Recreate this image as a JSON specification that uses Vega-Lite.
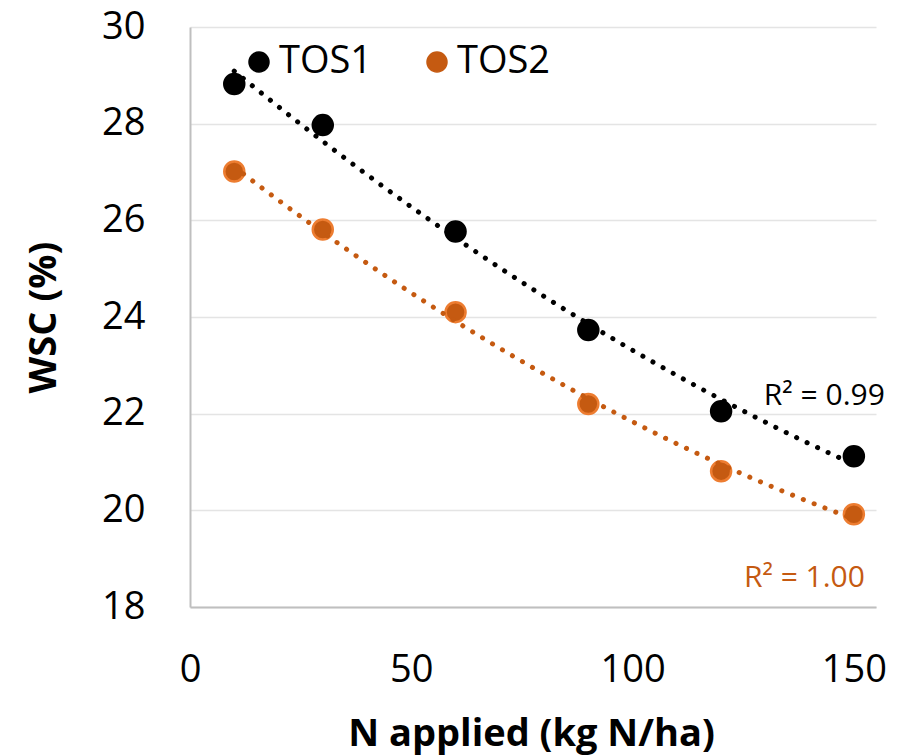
{
  "$schema": "https://vega.github.io/schema/vega-lite/v6.json",
  "autosize": "none",
  "width": 686,
  "height": 580,
  "padding": {"left": 190, "top": 27, "right": 32, "bottom": 148},
  "background": "white",
  "config": {
    "font": "Open Sans",
    "view": {"stroke": null},
    "axis": {
      "labelFont": "Open Sans",
      "labelFontSize": 38,
      "labelColor": "#000000",
      "labelFlush": false,
      "titleFont": "Open Sans",
      "titleFontSize": 38,
      "titleFontWeight": "bold",
      "titleColor": "#000000",
      "domainColor": "#BFBFBF",
      "domainWidth": 2,
      "ticks": false,
      "gridColor": "#E4E4E4",
      "gridWidth": 1.5
    }
  },
  "datasets": {
    "wsc": [
      {"n": 10, "wsc": 28.82, "series": "TOS1"},
      {"n": 30, "wsc": 27.97, "series": "TOS1"},
      {"n": 60, "wsc": 25.77, "series": "TOS1"},
      {"n": 90, "wsc": 23.73, "series": "TOS1"},
      {"n": 120, "wsc": 22.05, "series": "TOS1"},
      {"n": 150, "wsc": 21.12, "series": "TOS1"},
      {"n": 10, "wsc": 27.01, "series": "TOS2"},
      {"n": 30, "wsc": 25.81, "series": "TOS2"},
      {"n": 60, "wsc": 24.1, "series": "TOS2"},
      {"n": 90, "wsc": 22.2, "series": "TOS2"},
      {"n": 120, "wsc": 20.81, "series": "TOS2"},
      {"n": 150, "wsc": 19.92, "series": "TOS2"}
    ]
  },
  "layer": [
    {
      "data": {"name": "wsc"},
      "mark": {"type": "point", "filled": true, "size": 400, "strokeWidth": 2.5, "opacity": 1},
      "encoding": {
        "x": {
          "field": "n",
          "type": "quantitative",
          "scale": {"domain": [0, 155], "nice": false},
          "axis": {
            "values": [0, 50, 100, 150],
            "grid": false,
            "labelPadding": 44,
            "title": "N applied (kg N/ha)",
            "titleBaseline": "alphabetic",
            "titleY": 138,
            "titleX": 341
          }
        },
        "y": {
          "field": "wsc",
          "type": "quantitative",
          "scale": {"domain": [18, 30], "nice": false, "zero": false},
          "axis": {
            "values": [18, 20, 22, 24, 26, 28, 30],
            "labelPadding": 45,
            "title": "WSC (%)",
            "titleAngle": 270,
            "titleAlign": "center",
            "titleBaseline": "alphabetic",
            "titleX": -135,
            "titleY": 290
          }
        },
        "color": {
          "field": "series",
          "type": "nominal",
          "scale": {"domain": ["TOS1", "TOS2"], "range": ["#000000", "#C55A11"]},
          "legend": {
            "title": null,
            "orient": "none",
            "direction": "horizontal",
            "legendX": 50,
            "legendY": 16,
            "symbolType": "circle",
            "symbolSize": 400,
            "symbolOpacity": 1,
            "labelFont": "Open Sans",
            "labelFontSize": 38,
            "labelColor": "#000000",
            "labelOffset": 1,
            "columnPadding": 45
          }
        },
        "stroke": {
          "field": "series",
          "type": "nominal",
          "scale": {"domain": ["TOS1", "TOS2"], "range": ["#000000", "#ED7D31"]},
          "legend": null
        }
      }
    },
    {
      "data": {"name": "wsc"},
      "transform": [
        {"regression": "wsc", "on": "n", "groupby": ["series"], "method": "poly", "order": 2, "extent": [10, 150]}
      ],
      "mark": {"type": "line", "strokeWidth": 5, "strokeCap": "round", "strokeDash": [0.1, 11.5]},
      "encoding": {
        "x": {"field": "n", "type": "quantitative"},
        "y": {"field": "wsc", "type": "quantitative"},
        "color": {"field": "series", "type": "nominal"}
      }
    },
    {
      "data": {"values": [{"n": 157, "wsc": 22.18, "label": "R² = 0.99"}]},
      "mark": {"type": "text", "align": "right", "baseline": "alphabetic", "font": "Open Sans", "fontSize": 30, "color": "#000000"},
      "encoding": {
        "x": {"field": "n", "type": "quantitative"},
        "y": {"field": "wsc", "type": "quantitative"},
        "text": {"field": "label"}
      }
    },
    {
      "data": {"values": [{"n": 152.5, "wsc": 18.41, "label": "R² = 1.00"}]},
      "mark": {"type": "text", "align": "right", "baseline": "alphabetic", "font": "Open Sans", "fontSize": 30, "color": "#C55A11"},
      "encoding": {
        "x": {"field": "n", "type": "quantitative"},
        "y": {"field": "wsc", "type": "quantitative"},
        "text": {"field": "label"}
      }
    }
  ]
}
